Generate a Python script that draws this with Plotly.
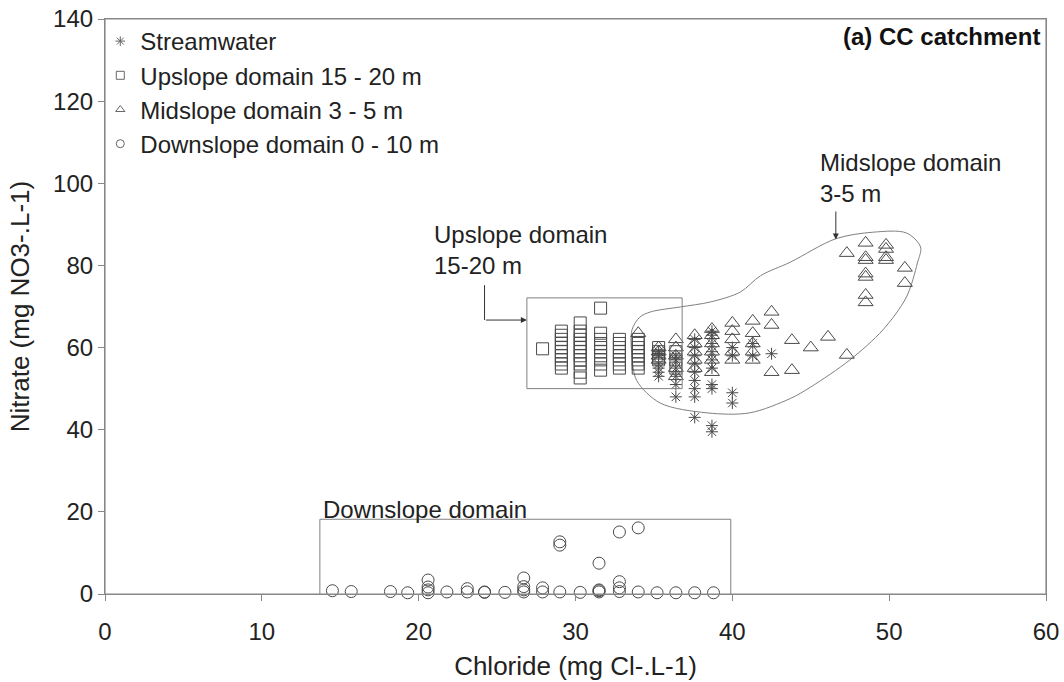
import plotly.graph_objects as go

# Streamwater (chloride, nitrate)
stream_cl = [35.3, 35.3, 35.3, 35.3, 35.3, 35.3,
             36.4, 36.4, 36.4, 36.4, 36.4, 36.4,
             37.6, 37.6, 37.6, 37.6, 37.6, 37.6, 37.6, 37.6, 37.6,
             38.7, 38.7, 38.7, 38.7, 38.7, 38.7, 38.7, 38.7, 38.7, 38.7,
             40.0, 40.0, 40.0, 40.0,
             41.3, 41.3,
             42.5]
stream_no3 = [53, 54, 55, 56, 58, 59,
              48, 51, 53, 55, 57, 58,
              43, 48, 50, 52, 54, 56, 58, 60, 62,
              39.5, 41, 50, 51, 55, 57, 59, 61, 63, 64,
              46.5, 49, 58, 60,
              58, 61,
              58.5]

# Upslope domain 15 - 20 m
up_cl = [27.9,
         29.1, 29.1, 29.1, 29.1, 29.1, 29.1, 29.1, 29.1, 29.1, 29.1,
         30.3, 30.3, 30.3, 30.3, 30.3, 30.3, 30.3, 30.3, 30.3, 30.3, 30.3, 30.3,
         31.6, 31.6, 31.6, 31.6, 31.6, 31.6, 31.6, 31.6, 31.6, 31.6,
         32.8, 32.8, 32.8, 32.8, 32.8, 32.8, 32.8, 32.8,
         34.0, 34.0, 34.0, 34.0, 34.0, 34.0, 34.0, 34.0,
         35.3, 35.3, 35.3, 35.3,
         36.4, 36.4, 36.4]
up_no3 = [59.7,
          55, 56, 57, 58, 59, 60, 61, 62, 63, 64,
          52.6, 54, 56, 57, 58, 59, 60, 61, 62, 63, 64, 66,
          54.5, 56, 57, 58, 59, 60, 61, 62, 63.5, 69.6,
          55, 56, 57, 58, 59, 60, 61, 62,
          55, 56, 57, 58, 59, 60, 61, 62,
          57, 58, 59, 60,
          55, 57, 59]

# Midslope domain 3 - 5 m
mid_cl = [34.0,
          35.3, 35.3, 35.3, 35.3,
          36.4, 36.4, 36.4, 36.4, 36.4,
          37.6, 37.6, 37.6, 37.6, 37.6,
          38.7, 38.7, 38.7, 38.7, 38.7, 38.7,
          40.0, 40.0, 40.0, 40.0, 40.0,
          41.3, 41.3, 41.3, 41.3, 41.3,
          42.5, 42.5, 42.5,
          43.8, 43.8,
          45.0, 46.1,
          47.3, 47.3,
          48.5, 48.5, 48.5, 48.5, 48.5, 48.5, 48.5,
          49.8, 49.8, 49.8, 49.8,
          51.0, 51.0]
mid_no3 = [63.5,
           57, 58, 59, 60,
           53, 55, 58, 60, 62,
           55, 57, 59, 61, 63,
           54, 57, 59, 61, 63, 64.5,
           57, 59, 62, 64, 66,
           57, 59, 61, 63.5, 66.5,
           54, 65.5, 68.7,
           54.5, 61.8,
           60, 62.6,
           58.2, 83,
           71, 72.8, 77.2, 78, 81.3, 82, 85.5,
           81.3, 82, 84, 85,
           75.7, 79.4]

# Downslope domain 0 - 10 m
down_cl = [14.5, 15.7, 18.2, 19.3,
           20.6, 20.6, 20.6, 20.6,
           21.8, 23.1, 23.1, 24.2, 24.2, 25.5,
           26.7, 26.7, 26.7, 26.7,
           27.9, 27.9,
           29.0, 29.0, 29.0,
           30.3,
           31.5, 31.5, 31.5, 31.5,
           32.8, 32.8, 32.8, 32.8,
           34.0, 34.0,
           35.2, 36.4, 37.6, 38.8]
down_no3 = [0.8, 0.6, 0.6, 0.3,
            0.3, 1.0, 1.7, 3.4,
            0.5, 0.5, 1.3, 0.4, 0.5, 0.4,
            0.5, 1.0, 1.8, 3.9,
            0.5, 1.5,
            0.5, 11.9, 12.7,
            0.4,
            0.5, 0.8, 1.0, 7.5,
            0.6, 1.5, 3.0, 15.1,
            0.5, 16.1,
            0.3, 0.3, 0.3, 0.3]

# outline drawn around the midslope samples
outline_cl = [33.6, 33.6, 34.1, 34.8, 36.7, 38.6, 40.5, 41.8, 43.7, 46.6, 49.0,
              51.1, 52.0, 51.8, 51.1, 49.6, 47.5, 45.0, 43.7, 41.1, 38.4,
              35.4, 33.9, 33.6]
outline_no3 = [58.0, 64.3, 67.4, 68.7, 69.9, 71.1, 73.5, 77.5, 80.8, 86.5, 88.1,
               87.9, 84.5, 80.6, 72.3, 64.3, 57.0, 50.4, 47.6, 44.1, 44.1,
               46.5, 52.0, 58.0]

mk_line = '#4a4a4a'
font = 'Liberation Sans, Arial, sans-serif'

fig = go.Figure()

fig.add_trace(go.Scatter(
    x=outline_cl, y=outline_no3, mode='lines',
    line=dict(color='#808080', width=1, shape='spline', smoothing=0.9),
    showlegend=False, hoverinfo='skip'))

series = [
    ('Streamwater', stream_cl, stream_no3, 'asterisk-open', 10),
    ('Upslope domain 15 - 20 m', up_cl, up_no3, 'square-open', 12),
    ('Midslope domain 3 - 5 m', mid_cl, mid_no3, 'triangle-up-open', 13),
    ('Downslope domain 0 - 10 m', down_cl, down_no3, 'circle-open', 12),
]
for name, xs, ys, sym, sz in series:
    fig.add_trace(go.Scatter(
        x=xs, y=ys, mode='markers', name=name, showlegend=False,
        marker=dict(symbol=sym, size=sz, color=mk_line,
                    line=dict(color=mk_line, width=1)),
        cliponaxis=False))
# small legend keys
for name, xs, ys, sym, sz in series:
    fig.add_trace(go.Scatter(
        x=[None], y=[None], mode='markers', name=name, legendgroup=name,
        marker=dict(symbol=sym, size=8, color='#666666',
                    line=dict(color='#666666', width=1))))

# plot frame
fig.add_shape(type='rect', xref='paper', yref='paper', x0=0, x1=1, y0=0, y1=1,
              line=dict(color='#888888', width=1.2))

# domain boxes
fig.add_shape(type='rect', x0=26.9, x1=36.8, y0=50, y1=72.1,
              line=dict(color='#808080', width=1))
fig.add_shape(type='rect', x0=13.7, x1=39.9, y0=-1, y1=18.2,
              line=dict(color='#808080', width=1))
fig.add_shape(type='line', x0=24.2, x1=24.2, y0=75.2, y1=66.7,
              line=dict(color='#333333', width=1))

fig.add_annotation(x=26.9, y=66.7, ax=24.2, ay=66.7, axref='x', ayref='y',
                   showarrow=True, arrowhead=2, arrowsize=1.2, arrowwidth=1,
                   arrowcolor='#333333', text='')
fig.add_annotation(x=46.6, y=86.3, ax=46.6, ay=93.5, axref='x', ayref='y',
                   showarrow=True, arrowhead=2, arrowsize=1.2, arrowwidth=1,
                   arrowcolor='#333333', text='')

fig.add_annotation(x=20.85, y=83.8, text='Upslope domain<br>15-20 m',
                   showarrow=False, xanchor='left', yanchor='middle', align='left',
                   font=dict(size=24, color='#222222', family=font))
fig.add_annotation(x=45.45, y=101.3, text='Midslope domain<br>3-5 m',
                   showarrow=False, xanchor='left', yanchor='middle', align='left',
                   font=dict(size=24, color='#222222', family=font))
fig.add_annotation(x=13.8, y=20.6, text='Downslope domain',
                   showarrow=False, xanchor='left', yanchor='middle', align='left',
                   font=dict(size=24, color='#222222', family=font))
fig.add_annotation(x=0.996, y=0.969, xref='paper', yref='paper',
                   text='<b>(a) CC catchment</b>', showarrow=False,
                   xanchor='right', yanchor='middle',
                   font=dict(size=24, color='#111111', family=font))

axis_common = dict(showline=True, linecolor='#888888', linewidth=1.2, mirror=True,
                   ticks='outside', ticklen=6, tickcolor='#888888',
                   showgrid=False, zeroline=False, ticklabeloverflow='allow',
                   tickfont=dict(size=24, color='#222222', family=font))

fig.update_xaxes(range=[0, 60], dtick=10, ticklabelstandoff=10,
                 title=dict(text='Chloride (mg Cl-.L-1)', standoff=12,
                            font=dict(size=26, color='#222222', family=font)),
                 **axis_common)
fig.update_yaxes(range=[0, 140], dtick=20,
                 title=dict(text='Nitrate (mg NO3-.L-1)', standoff=15,
                            font=dict(size=26, color='#222222', family=font)),
                 **axis_common)

fig.update_layout(
    width=1064, height=682,
    margin=dict(l=105, r=18, t=19, b=88, autoexpand=False),
    plot_bgcolor='white', paper_bgcolor='white',
    font=dict(family=font, color='#222222'),
    legend=dict(x=-0.005, y=1.0, xanchor='left', yanchor='top',
                traceorder='grouped', tracegroupgap=0, itemwidth=30,
                bgcolor='rgba(0,0,0,0)',
                font=dict(size=24, color='#222222', family=font)),
)

# drop the default page margin so the figure sits at the window corner
fig.write_html('out.html', config={'displayModeBar': False},
               post_script="document.body.style.margin='0';")
